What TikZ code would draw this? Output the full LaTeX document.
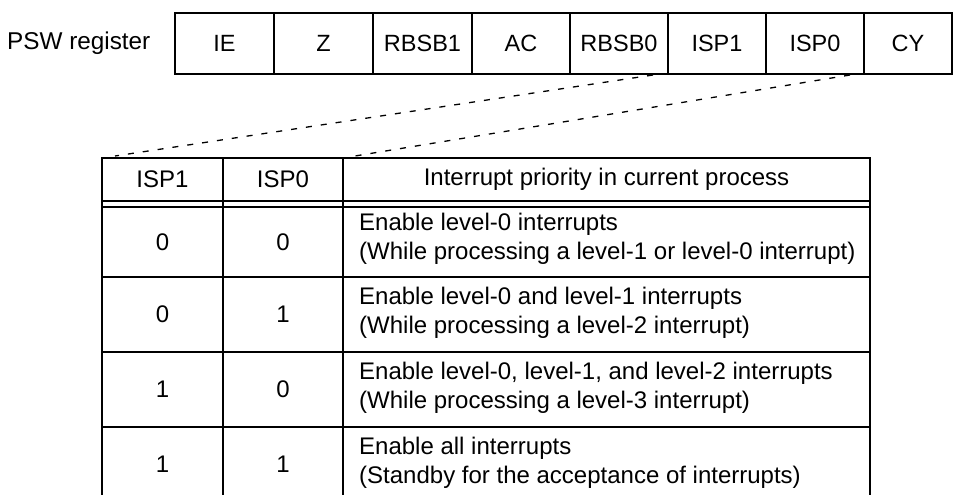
\documentclass[tikz,border=0pt]{standalone}
\usepackage{fontspec}
\setmainfont{Liberation Sans}
\usetikzlibrary{calc}
\begin{document}
\begin{tikzpicture}[x=1pt,y=-1pt,
  txt/.style={font=\fontsize{24}{29}\selectfont},
  regcell/.style={draw, line width=1.8pt, inner sep=0pt, outer sep=0pt, anchor=north west,
    minimum height=61pt, font=\fontsize{23.5}{29}\selectfont},
  tcell/.style={draw, line width=1.8pt, inner sep=0pt, outer sep=0pt, anchor=north west, txt},
  desc/.style={tcell, minimum width=527pt},
  desctext/.style={txt, anchor=west, align=left, inner sep=0pt},
  tline/.style={line width=1.8pt},
  guide/.style={line width=1.3pt, dash pattern=on 6pt off 9pt}]
\useasboundingbox (0,0) rectangle (954,495);
\clip (0,0) rectangle (954,495);

% register
\node[font=\fontsize{24.3}{29}\selectfont, anchor=west, inner sep=0pt] (psw) at (7,43) {PSW register};
\node[regcell, minimum width=99pt] (ie)    at (175,13) {IE};
\node[regcell, minimum width=99pt] (z)     at (274,13) {Z};
\node[regcell, minimum width=99pt] (rbsb1) at (373,13) {RBSB1};
\node[regcell, minimum width=98pt] (ac)    at (472,13) {AC};
\node[regcell, minimum width=98pt] (rbsb0) at (570,13) {RBSB0};
\node[regcell, minimum width=98pt] (isp1)  at (668,13) {ISP1};
\node[regcell, minimum width=98pt] (isp0)  at (766,13) {ISP0};
\node[regcell, minimum width=88pt] (cy)    at (864,13) {CY};

% table header
\node[tcell, minimum width=121pt, minimum height=43pt] (h1) at (102,158) {ISP1};
\node[tcell, minimum width=120pt, minimum height=43pt] (h2) at (223,158) {ISP0};
\node[tcell, minimum width=527pt, minimum height=43pt] (h3) at (343,158) {Interrupt priority in current process};

% rows
\node[tcell, minimum width=121pt, minimum height=70pt] (a1) at (102,207) {0};
\node[tcell, minimum width=120pt, minimum height=70pt] (b1) at (223,207) {0};
\node[desc, minimum height=70pt] (c1) at (343,207) {};
\node[desctext] (t1) at ($(c1.west)+(16,-3)$) {Enable level-0 interrupts\\(While processing a level-1 or level-0 interrupt)};

\node[tcell, minimum width=121pt, minimum height=75pt] (a2) at (102,277) {0};
\node[tcell, minimum width=120pt, minimum height=75pt] (b2) at (223,277) {1};
\node[desc, minimum height=75pt] (c2) at (343,277) {};
\node[desctext] (t2) at ($(c2.west)+(16,-2)$) {Enable level-0 and level-1 interrupts\\(While processing a level-2 interrupt)};

\node[tcell, minimum width=121pt, minimum height=75pt] (a3) at (102,352) {1};
\node[tcell, minimum width=120pt, minimum height=75pt] (b3) at (223,352) {0};
\node[desc, minimum height=75pt] (c3) at (343,352) {};
\node[desctext] (t3) at ($(c3.west)+(16,-2)$) {Enable level-0, level-1, and level-2 interrupts\\(While processing a level-3 interrupt)};

\node[tcell, minimum width=121pt, minimum height=75pt] (a4) at (102,427) {1};
\node[tcell, minimum width=120pt, minimum height=75pt] (b4) at (223,427) {1};
\node[desc, minimum height=75pt] (c4) at (343,427) {};
\node[desctext] (t4) at ($(c4.west)+(16,-2)$) {Enable all interrupts\\(Standby for the acceptance of interrupts)};

% double-line gap verticals
\draw[tline] (h1.south west) -- (a1.north west);
\draw[tline] (h2.south west) -- (b1.north west);
\draw[tline] (h3.south west) -- (c1.north west);
\draw[tline] (h3.south east) -- (c1.north east);

% dashed guides
\coordinate (g1a) at ($(rbsb0.south east)+(-15,1)$);
\coordinate (g1b) at ($(h1.north west)+(13,-2)$);
\coordinate (g2a) at ($(isp0.south east)+(-14,1)$);
\coordinate (g2b) at ($(h3.north west)+(12,-2)$);
\draw[guide] (g1a) -- (g1b);
\draw[guide] (g2a) -- (g2b);
\end{tikzpicture}
\end{document}
